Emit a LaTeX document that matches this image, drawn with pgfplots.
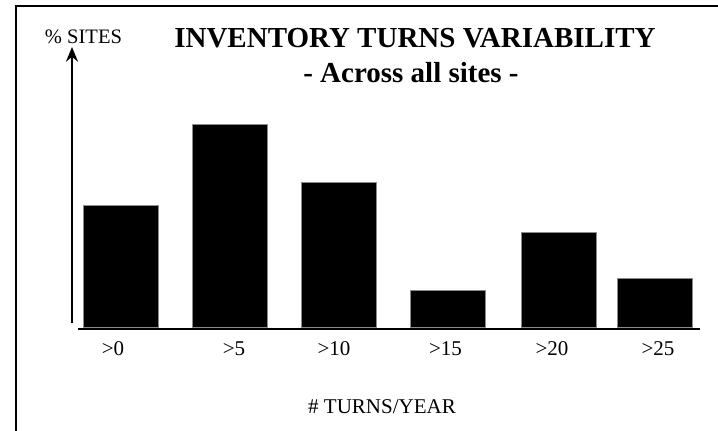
\documentclass[border=0pt]{standalone}
\usepackage{fontspec}
\setmainfont{Liberation Serif}
\usepackage{pgfplots}
\pgfplotsset{compat=1.18}
\usetikzlibrary{arrows.meta}

\begin{document}
\begin{tikzpicture}
\useasboundingbox (0pt,0pt) rectangle (538.5pt,-322.5pt);
\begin{axis}[
  at={(58.5pt,-246.75pt)}, anchor=south west,
  scale only axis,
  width=466.5pt, height=210.75pt,
  xmin=78, xmax=700, ymin=-2, ymax=279,
  axis x line=bottom, axis y line=none,
  axis line style={-, line width=1.6pt},
  xtick={113,234,334,445.5,552,658},
  xticklabels={>0,>5,>10,>15,>20,>25},
  major tick length=0pt,
  ytick=\empty,
  xticklabel style={anchor=base, yshift=-19.5pt, font=\fontsize{15.75}{18}\selectfont},
  xlabel={\# TURNS/YEAR},
  xlabel style={at={(axis description cs:0.4887,-0.299)}, anchor=base, font=\fontsize{15.75}{18}\selectfont},
  clip=false,
]
\addplot[ybar, bar width=75, fill=black, draw=black!45, line width=0.5pt]
  coordinates {(120.5,122) (229.5,203) (339,145) (447.5,37) (559,95) (655,49)};
\end{axis}
\begin{scope}[x=0.75pt, y=-0.75pt]
  \draw[line width=1.8pt, line join=miter] (16,440) -- (16,6) -- (730,6);
  \draw[line width=1.5pt, -{Stealth[length=11pt, width=9pt]}] (72,323) -- (72,47);
  \node[anchor=base, font=\fontsize{21.75}{24}\selectfont\bfseries] at (415,47) {INVENTORY TURNS VARIABILITY};
  \node[anchor=base, font=\fontsize{21.75}{24}\selectfont\bfseries] at (411,82) {- Across all sites -};
  \node[anchor=base, font=\fontsize{15.4}{18}\selectfont] at (83.5,43) {\% SITES};
\end{scope}
\end{tikzpicture}
\end{document}
